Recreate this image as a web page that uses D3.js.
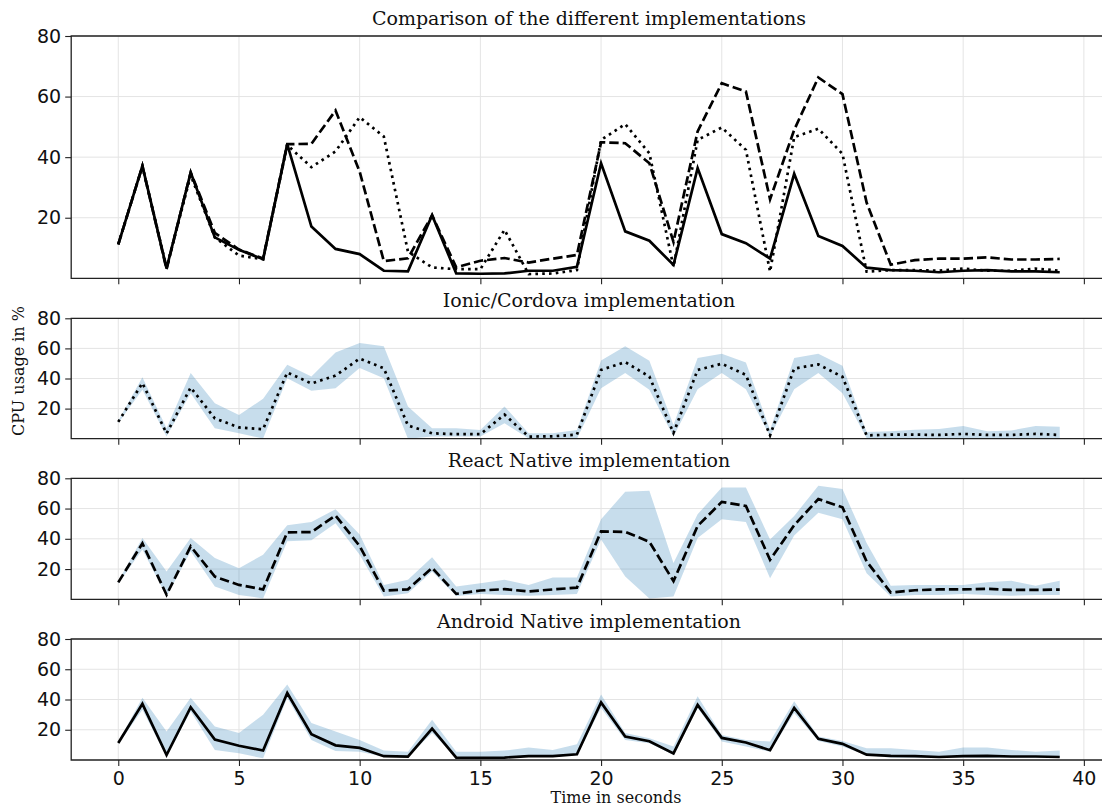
<!DOCTYPE html>
<html>
<head>
<meta charset="utf-8">
<script src="https://cdn.jsdelivr.net/npm/d3@7"></script>
<style>
  body { margin: 0; background: #fff; }
  svg { display: block; }
  .tick text { font-family: "DejaVu Sans", sans-serif; font-size: 19px; fill: #111; }
  .tick line { stroke: #222; stroke-width: 1.1; }
  .grid line { stroke: #e4e4e4; stroke-width: 1; }
  .spine { stroke: #222; stroke-width: 1.3; }
  .title { font-family: "DejaVu Serif", serif; font-size: 19px; fill: #111; }
  .lbl { font-family: "DejaVu Serif", serif; font-size: 16px; fill: #111; }
</style>
</head>
<body>
<div class="chart"></div>
<script>
// time axis (seconds)
var seconds = [0,1,2,3,4,5,6,7,8,9,10,11,12,13,14,15,16,17,18,19,
               20,21,22,23,24,25,26,27,28,29,30,31,32,33,34,35,36,37,38,39];
var xTicks = [0, 5, 10, 15, 20, 25, 30, 35, 40];
var yTicks = [20, 40, 60, 80];

// Ionic / Cordova
var ionicMean  = [11.2, 37, 3.5, 34, 13.5, 7.5, 6.3, 44, 36.7, 41.9, 53.2, 46.8, 8.8, 3.6, 3.0, 3.0, 16.0, 1.4, 1.6, 2.7,
                  45.7, 50.9, 41.3, 3.8, 45.7, 49.8, 42.4, 2.2, 46.6, 49.4, 41.1, 2.2, 2.7, 2.7, 2.5, 3.2, 2.5, 2.5, 3.2, 2.5];
var ionicUpper = [12, 40.9, 6.9, 43.6, 23.6, 15.8, 26.5, 49.1, 41.4, 57.3, 63.6, 61.4, 21.4, 6.9, 6.9, 5.8, 21.4, 3.6, 3.6, 5.8,
                  52.0, 61.4, 51.8, 9.1, 53.6, 56.5, 50.7, 5.8, 53.6, 56.5, 48.5, 4.5, 5.0, 6.0, 6.5, 8.5, 5.0, 5.5, 8.5, 8.0];
var ionicLower = [10.5, 32.5, 1.4, 30.2, 6.9, 3.6, 0.2, 40.2, 31.8, 33.6, 46.9, 40.2, 0, 1.4, 1.4, 1.4, 10.2, 0.2, 0, 0,
                  33.6, 43.6, 32.5, 1.4, 32.9, 43.6, 32.9, 1.4, 32.9, 43.6, 30.2, 0.5, 0.5, 0.5, 0.5, 0.5, 0.5, 0.5, 0.5, 0.5];

// React Native
var reactMean  = [11.2, 37, 3, 35, 15, 9.5, 6.5, 44.3, 44.4, 55.4, 35.2, 5.7, 6.6, 20.8, 3.6, 5.8, 6.7, 5.2, 6.5, 7.7,
                  44.9, 44.6, 38.0, 12, 48.5, 64.4, 61.7, 26.1, 49.0, 66.3, 60.8, 25, 4.5, 6.0, 6.5, 6.5, 6.9, 6.2, 6.2, 6.4];
var reactUpper = [12, 40.6, 18.4, 40.6, 27.3, 20.6, 29.5, 48.9, 51.1, 59.5, 42.9, 9.5, 12.9, 27.8, 8.4, 10.6, 12.9, 9.5, 14.4, 14.4,
                  52.9, 71.1, 71.8, 24.0, 56.2, 74.0, 74.0, 39.5, 55.1, 75.1, 72.9, 37.3, 8.9, 9.5, 9.5, 9.5, 11.3, 12.2, 8.9, 12.2];
var reactLower = [10.5, 32.9, 1.8, 31.8, 8.4, 2.9, 0.6, 38.4, 39.1, 50.2, 29.5, 1.8, 4.0, 18.4, 2.2, 3.5, 2.9, 2.4, 2.9, 3.5,
                  39.5, 15.1, 0.5, 1.8, 40.6, 52.9, 51.1, 14.0, 42.2, 57.3, 52.9, 17.3, 1.8, 2.9, 2.9, 3.5, 2.9, 2.4, 2.9, 2.9];

// Android Native
var androidMean  = [11.2, 37.1, 3.3, 34.9, 13.5, 9.4, 6.3, 44.3, 17.1, 9.7, 8.0, 2.5, 2.3, 20.8, 1.6, 1.5, 1.6, 2.5, 2.5, 3.8,
                    38.0, 15.5, 12.4, 4.4, 36.4, 14.6, 11.6, 6.5, 34.5, 14.0, 10.7, 3.5, 2.7, 2.5, 2.0, 2.5, 2.7, 2.3, 2.3, 2.0];
var androidUpper = [12, 41.1, 18.9, 41.1, 22.2, 17.8, 30.0, 50.0, 24.4, 18.9, 13.3, 6.2, 5.5, 26.6, 5.5, 5.5, 6.2, 8.2, 6.6, 10.4,
                    43.3, 17.8, 14.4, 8.9, 42.2, 16.6, 13.3, 12.2, 38.9, 15.5, 12.6, 7.7, 7.7, 6.6, 5.5, 8.2, 8.2, 6.6, 5.5, 6.2];
var androidLower = [10.5, 33.3, 2.2, 32.2, 6.6, 4.4, 1.1, 41.1, 13.3, 6.0, 5.5, 2.2, 2.2, 17.8, 2.2, 1.5, 1.5, 2.2, 2.2, 3.3,
                    34.4, 13.3, 11.1, 3.3, 34.4, 12.2, 8.9, 5.5, 31.1, 12.6, 8.9, 3.3, 1.5, 1.5, 1.5, 1.5, 1.5, 1.5, 1.5, 1.5];

var svgWidth = 1102, svgHeight = 807;

var dashes = { dotted: "2.6,4.2", dashed: "9.4,4", solid: null };

var ionic   = { mean: ionicMean, upper: ionicUpper, lower: ionicLower, dash: dashes.dotted };
var react   = { mean: reactMean, upper: reactUpper, lower: reactLower, dash: dashes.dashed };
var android = { mean: androidMean, upper: androidUpper, lower: androidLower, dash: dashes.solid };

// panel boxes (pixel rows)
var panels = [
  { title: "Comparison of the different implementations", top: 36, bottom: 278.3, series: [ionic, react, android], band: false, labels: false },
  { title: "Ionic/Cordova implementation", top: 318.3, bottom: 438.7, series: [ionic], band: true, labels: false },
  { title: "React Native implementation", top: 478.3, bottom: 599.3, series: [react], band: true, labels: false },
  { title: "Android Native implementation", top: 639, bottom: 760, series: [android], band: true, labels: true }
];

var x = d3.scaleLinear().domain([-1.95, 40.95]).range([71.2, 1106.8]);
var x0 = x.range()[0], x1 = x.range()[1];

var svg = d3.select(".chart")
            .append("svg")
            .attr("width", svgWidth)
            .attr("height", svgHeight);

panels.forEach(function(p, k) {
  var y = d3.scaleLinear().domain([0, 80]).range([p.bottom, p.top]);
  var g = svg.append("g");

  g.append("clipPath").attr("id", "clip" + k)
   .append("rect")
   .attr("x", x0).attr("y", p.top)
   .attr("width", x1 - x0).attr("height", p.bottom - p.top);

  // grid
  var grid = g.append("g").attr("class", "grid");
  grid.selectAll(".gx").data(xTicks).enter().append("line")
      .attr("x1", d => x(d)).attr("x2", d => x(d))
      .attr("y1", p.top).attr("y2", p.bottom);
  grid.selectAll(".gy").data(yTicks).enter().append("line")
      .attr("x1", x0).attr("x2", x1)
      .attr("y1", d => y(d)).attr("y2", d => y(d));

  var plot = g.append("g").attr("clip-path", "url(#clip" + k + ")");

  p.series.forEach(function(s) {
    if (p.band) {
      var area = d3.area()
                   .x((d, i) => x(seconds[i]))
                   .y0((d, i) => y(s.lower[i]))
                   .y1((d, i) => y(s.upper[i]));
      plot.append("path")
          .attr("d", area(s.mean))
          .attr("fill", "#1f77b4")
          .attr("fill-opacity", 0.25);
    }
    var line = d3.line()
                 .x((d, i) => x(seconds[i]))
                 .y(d => y(d));
    plot.append("path")
        .attr("d", line(s.mean))
        .attr("fill", "none")
        .attr("stroke", "#000")
        .attr("stroke-width", 2.7)
        .attr("stroke-linejoin", "miter")
        .attr("stroke-dasharray", s.dash);
  });

  // axes
  var xAxis = d3.axisBottom(x).tickValues(xTicks).tickSize(6).tickSizeOuter(0).tickPadding(6);
  if (!p.labels) xAxis.tickFormat("");
  g.append("g")
   .attr("transform", "translate(0," + p.bottom + ")")
   .call(xAxis)
   .call(a => a.select(".domain").remove());

  var yAxis = d3.axisLeft(y).tickValues(yTicks).tickSize(6).tickSizeOuter(0).tickPadding(4);
  g.append("g")
   .attr("transform", "translate(" + x0 + ",0)")
   .call(yAxis)
   .call(a => a.select(".domain").remove());

  // spines: top, left, bottom (the right one falls outside the picture)
  g.append("path")
   .attr("class", "spine")
   .attr("fill", "none")
   .attr("d", "M" + x1 + "," + p.top + "H" + x0 + "V" + p.bottom + "H" + x1);

  g.append("text")
   .attr("class", "title")
   .attr("x", (x0 + x1) / 2)
   .attr("y", p.top - 11)
   .attr("text-anchor", "middle")
   .text(p.title);
});

svg.append("text")
   .attr("class", "lbl")
   .attr("transform", "translate(24,371) rotate(-90)")
   .attr("text-anchor", "middle")
   .text("CPU usage in %");

svg.append("text")
   .attr("class", "lbl")
   .attr("x", 616)
   .attr("y", 803)
   .attr("text-anchor", "middle")
   .text("Time in seconds");
</script>
</body>
</html>
